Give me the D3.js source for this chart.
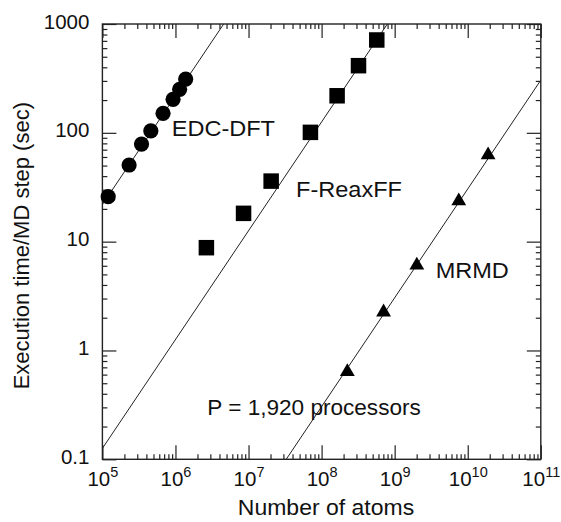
<!DOCTYPE html>
<html><head><meta charset="utf-8">
<script src="https://cdn.jsdelivr.net/npm/d3@7"></script>
<style>
html,body{margin:0;padding:0;background:#fff;}
text{font-family:"Liberation Sans",Arial,Helvetica,sans-serif;fill:#111;}
</style></head>
<body>
<svg id="chart" width="561" height="522"></svg>
<script>
// ---- data ----
const edcAtoms  = [1.2e5, 2.32e5, 3.43e5, 4.6e5, 6.76e5, 9.27e5, 1.14e6, 1.38e6];
const edcTime   = [25.9, 50.6, 78.9, 104, 151, 203, 251, 312];
const reaxAtoms = [2.65e6, 8.55e6, 2.04e7, 7.03e7, 1.63e8, 3.2e8, 5.69e8];
const reaxTime  = [8.8, 18.2, 36, 101, 219, 414, 713];
const mrmdAtoms = [2.25e8, 7.05e8, 2.01e9, 7.54e9, 1.9e10];
const mrmdTime  = [0.65, 2.3, 6.2, 24.1, 63.8];
// linear-scaling reference lines: time = coef * atoms
const fitNames  = ["EDC-DFT", "F-ReaxFF", "MRMD"];
const fitCoef   = [2.19e-4, 1.26e-6, 3.05e-9];
const xTicks = [1e5, 1e6, 1e7, 1e8, 1e9, 1e10, 1e11];
const xTickExp = ["5", "6", "7", "8", "9", "10", "11"];
const yTicks = [0.1, 1, 10, 100, 1000];
const yTickLabels = ["0.1", "1", "10", "100", "1000"];
const xTitle = "Number of atoms";
const yTitle = "Execution time/MD step (sec)";
const note = "P = 1,920 processors";

// ---- layout ----
const L = 102.4, R = 540.8, T = 24, B = 459.3;
const svg = d3.select("#chart");
const x = d3.scaleLog().domain([1e5, 1e11]).range([L, R]);
const y = d3.scaleLog().domain([0.1, 1000]).range([B, T]);

function minors(domain) {
  const out = [];
  for (let e = Math.round(Math.log10(domain[0])); e < Math.round(Math.log10(domain[1])); e++)
    for (let m = 2; m <= 9; m++) out.push(m * Math.pow(10, e));
  return out;
}
const xMinor = minors(x.domain()), yMinor = minors(y.domain());

const axG = svg.append("g");
function tickAxis(axisFn, scale, vals, size, tr) {
  const g = axG.append("g").attr("transform", tr)
    .call(axisFn(scale).tickValues(vals).tickSizeInner(-size).tickSizeOuter(0).tickFormat(""));
  g.select(".domain").remove();
  g.selectAll(".tick line").attr("stroke", "#222").attr("stroke-width", 1.2);
}
tickAxis(d3.axisBottom, x, xTicks, 14, `translate(0,${B})`);
tickAxis(d3.axisBottom, x, xMinor, 5, `translate(0,${B})`);
tickAxis(d3.axisTop, x, xTicks, 14, `translate(0,${T})`);
tickAxis(d3.axisTop, x, xMinor, 5, `translate(0,${T})`);
tickAxis(d3.axisLeft, y, yTicks, 14, `translate(${L},0)`);
tickAxis(d3.axisLeft, y, yMinor, 5, `translate(${L},0)`);
tickAxis(d3.axisRight, y, yTicks, 14, `translate(${R},0)`);
tickAxis(d3.axisRight, y, yMinor, 5, `translate(${R},0)`);

svg.append("rect").attr("x", L).attr("y", T).attr("width", R - L).attr("height", B - T)
  .attr("fill", "none").attr("stroke", "#222").attr("stroke-width", 1.4);

// y tick labels
const yl = svg.append("g").attr("transform", `translate(${L},0)`)
  .call(d3.axisLeft(y).tickValues(yTicks).tickSize(0).tickPadding(13)
    .tickFormat((d, i) => yTickLabels[i]));
yl.select(".domain").remove();
yl.selectAll("text").attr("font-size", 20.5).attr("dy", "0.2em")
  .style("font-family", '"Liberation Sans",Arial,sans-serif').attr("fill", "#111");

// x tick labels with superscripts
const xl = svg.append("g").attr("transform", `translate(0,${B})`)
  .call(d3.axisBottom(x).tickValues(xTicks).tickSize(0).tickPadding(0).tickFormat(""));
xl.select(".domain").remove();
xl.selectAll(".tick text").each(function (d, i) {
  const t = d3.select(this).attr("y", 27).attr("dy", 0).attr("text-anchor", "middle")
    .attr("font-size", 20.5).style("font-family", '"Liberation Sans",Arial,sans-serif').attr("fill", "#111");
  t.append("tspan").text("10");
  t.append("tspan").attr("font-size", 14.5).attr("dy", -9).text(xTickExp[i]);
});

// clip
svg.append("clipPath").attr("id", "clip").append("rect")
  .attr("x", L).attr("y", T).attr("width", R - L).attr("height", B - T);

// fit lines
const line = d3.line().x(d => x(d[0])).y(d => y(d[1]));
svg.append("g").attr("clip-path", "url(#clip)").selectAll("path")
  .data(fitCoef).join("path")
  .attr("d", c => line([[1e5, c * 1e5], [1e11, c * 1e11]]))
  .attr("fill", "none").attr("stroke", "#222").attr("stroke-width", 1);

// markers
svg.append("g").selectAll("circle").data(d3.zip(edcAtoms, edcTime)).join("circle")
  .attr("cx", d => x(d[0])).attr("cy", d => y(d[1])).attr("r", 7.6).attr("fill", "#000");
const sq = 15.5;
svg.append("g").selectAll("rect").data(d3.zip(reaxAtoms, reaxTime)).join("rect")
  .attr("x", d => x(d[0]) - sq / 2).attr("y", d => y(d[1]) - sq / 2)
  .attr("width", sq).attr("height", sq).attr("fill", "#000");
const tri = d3.symbol().type(d3.symbolTriangle).size(95);
svg.append("g").selectAll("path").data(d3.zip(mrmdAtoms, mrmdTime)).join("path")
  .attr("d", tri).attr("transform", d => `translate(${x(d[0])},${y(d[1]) + 1})`).attr("fill", "#000");

// series labels (anchored in data units)
const labelAtoms = [8.9e5, 4.47e7, 3.64e9];
const labelTime  = [93, 25.9, 4.6];
fitNames.forEach((n, i) => {
  svg.append("text").attr("transform", `translate(${x(labelAtoms[i])},${y(labelTime[i])}) scale(1.07,1)`)
    .attr("font-size", 22).text(n);
});
svg.append("text").attr("transform", `translate(${x(2.73e6)},${y(0.255)}) scale(1.05,1)`)
  .attr("font-size", 21.5).text(note);

// axis titles
svg.append("text").attr("transform", `translate(326,515) scale(1.07,1)`).attr("text-anchor", "middle")
  .attr("font-size", 21.5).text(xTitle);
svg.append("text").attr("transform", `translate(29,${(T + B) / 2 + 4}) rotate(-90)`)
  .attr("text-anchor", "middle").attr("font-size", 22).text(yTitle);
</script>
</body></html>
